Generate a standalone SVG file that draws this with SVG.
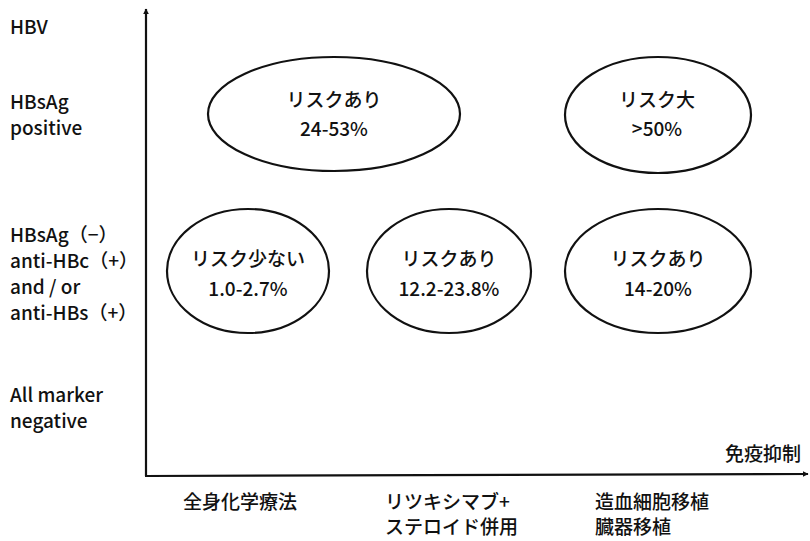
<svg xmlns="http://www.w3.org/2000/svg" width="810" height="541" viewBox="0 0 810 541">
<style>
text{font-family:"Noto Sans CJK JP","Noto Sans",sans-serif;font-size:19px;fill:#111;font-weight:500}
.c{text-anchor:middle}
.e{fill:none;stroke:#111;stroke-width:2.2}
.ax{stroke:#111;stroke-width:2.2;fill:none}
</style>
<defs>
<marker id="ar" viewBox="0 0 10 10" refX="9" refY="5" markerWidth="6" markerHeight="6" orient="auto" markerUnits="userSpaceOnUse">
<path d="M0,0 L10,5 L0,10 z" fill="#111"/>
</marker>
</defs>
<rect width="810" height="541" fill="#fff"/>
<g id="connectors">
<line class="ax" x1="146" y1="476" x2="146" y2="9" marker-end="url(#ar)"/>
<line class="ax" x1="145" y1="476" x2="808" y2="474" marker-end="url(#ar)"/>
</g>
<g id="ylabels">
<text x="10" y="34">HBV</text>
<text x="10" y="109">HBsAg</text>
<text x="10" y="135">positive</text>
<text x="10" y="242">HBsAg（−）</text>
<text x="10" y="268">anti-HBc（+）</text>
<text x="10" y="294">and / or</text>
<text x="10" y="320">anti-HBs（+）</text>
<text x="10" y="402">All marker</text>
<text x="10" y="428">negative</text>
</g>
<g id="xlabels">
<text x="801" y="461" text-anchor="end">免疫抑制</text>
<text x="183" y="509">全身化学療法</text>
<text x="385" y="509">リツキシマブ+</text>
<text x="385" y="534">ステロイド併用</text>
<text x="595" y="509">造血細胞移植</text>
<text x="595" y="534">臓器移植</text>
</g>
<g id="n1">
<ellipse class="e" cx="334" cy="114" rx="126" ry="57"/>
<text class="c" x="334" y="107">リスクあり</text>
<text class="c" x="334" y="136">24-53%</text>
</g>
<g id="n2">
<ellipse class="e" cx="658" cy="115" rx="93" ry="58"/>
<text class="c" x="657" y="107">リスク大</text>
<text class="c" x="657" y="136">&gt;50%</text>
</g>
<g id="n3">
<ellipse class="e" cx="248" cy="271" rx="81" ry="62"/>
<text class="c" x="248" y="266">リスク少ない</text>
<text class="c" x="248" y="296">1.0-2.7%</text>
</g>
<g id="n4">
<ellipse class="e" cx="449" cy="271" rx="82" ry="62"/>
<text class="c" x="449" y="266">リスクあり</text>
<text class="c" x="449" y="296">12.2-23.8%</text>
</g>
<g id="n5">
<ellipse class="e" cx="658" cy="271" rx="93" ry="62"/>
<text class="c" x="658" y="266">リスクあり</text>
<text class="c" x="658" y="296">14-20%</text>
</g>
</svg>
